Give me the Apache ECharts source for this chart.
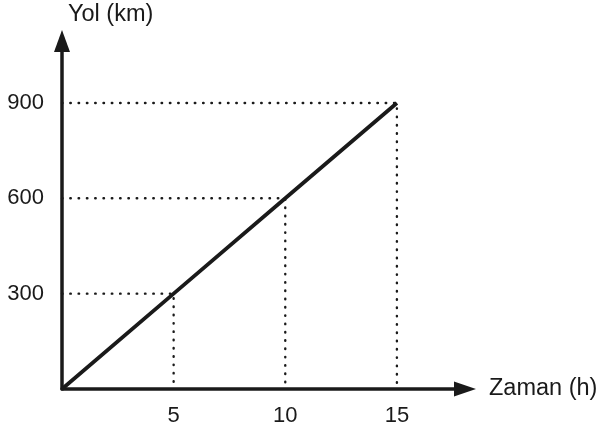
<!DOCTYPE html>
<html>
<head>
<meta charset="utf-8">
<script src="https://cdn.jsdelivr.net/npm/echarts@6/dist/echarts.min.js"></script>
<style>
  html, body { margin: 0; padding: 0; background: #fff; }
  #chart { width: 601px; height: 433px; }
</style>
</head>
<body>
<div id="chart"></div>
<script>
// Time (h) and distance (km) readings along the straight motion line
const timeValues = [0, 5, 10, 15];
const distanceValues = [0, 300, 600, 900];
const xTickLabels = [5, 10, 15];
const yTickLabels = [300, 600, 900];
const xAxisName = 'Zaman (h)';
const yAxisName = 'Yol (km)';

const INK = '#1a1a1a';
const FONT = '"Liberation Sans", Arial, sans-serif';

const linePoints = timeValues.map((t, i) => [t, distanceValues[i]]);

// Dotted guides: from the y axis across to each marked point, then down to the x axis
const guideSeries = timeValues.slice(1).map((t, i) => ({
  type: 'line',
  data: [[0, distanceValues[i + 1]], [t, distanceValues[i + 1]], [t, 0]],
  symbol: 'none',
  silent: true,
  z: 1,
  lineStyle: { color: INK, width: 2.4, type: [0.5, 7.8], cap: 'round' }
}));

const chart = echarts.init(document.getElementById('chart'), null, { renderer: 'canvas' });
chart.setOption({
  backgroundColor: '#ffffff',
  animation: false,
  grid: { left: 62, right: 136, top: 41, bottom: 44, containLabel: false },
  xAxis: {
    type: 'value',
    min: 0,
    max: 18.05,
    interval: 5,
    name: xAxisName,
    nameLocation: 'end',
    nameGap: 24,
    nameTextStyle: { fontFamily: FONT, fontSize: 23.5, color: INK, align: 'left', verticalAlign: 'middle', padding: [0, 0, 8, 0] },
    axisLine: { show: true, symbol: ['none', 'triangle'], symbolSize: [15, 22], lineStyle: { color: INK, width: 3.5 } },
    axisTick: { show: false },
    splitLine: { show: false },
    axisLabel: { customValues: xTickLabels, fontFamily: FONT, fontSize: 22, color: INK, margin: 16 }
  },
  yAxis: {
    type: 'value',
    min: 0,
    max: 1095,
    interval: 300,
    name: yAxisName,
    nameLocation: 'end',
    nameGap: 14,
    nameTextStyle: { fontFamily: FONT, fontSize: 23.5, color: INK, align: 'left', verticalAlign: 'bottom', padding: [0, 0, 0, 6] },
    axisLine: { show: true, symbol: ['none', 'triangle'], symbolSize: [16, 22], lineStyle: { color: INK, width: 3.5 } },
    axisTick: { show: false },
    splitLine: { show: false },
    axisLabel: { customValues: yTickLabels, fontFamily: FONT, fontSize: 22, color: INK, margin: 18 }
  },
  series: guideSeries.concat([{
    type: 'line',
    data: linePoints,
    symbol: 'none',
    z: 3,
    lineStyle: { color: INK, width: 3.8 }
  }])
});
</script>
</body>
</html>
